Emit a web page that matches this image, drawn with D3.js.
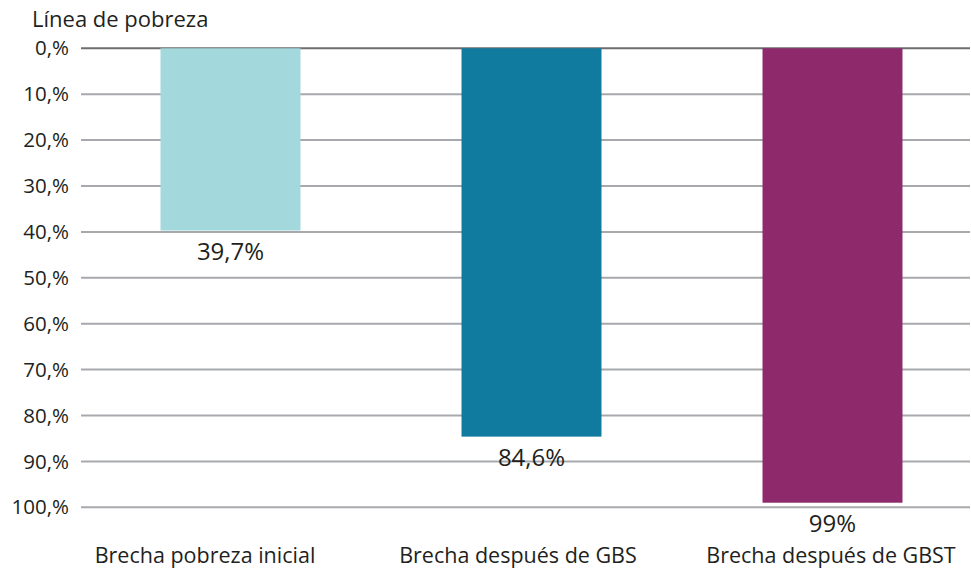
<!DOCTYPE html>
<html>
<head>
<meta charset="utf-8">
<script src="https://cdn.jsdelivr.net/npm/d3@7"></script>
<style>
  body { margin: 0; background: #fff; }
  text { font-family: "Open Sans", sans-serif; fill: #231f20; }
</style>
</head>
<body>
<div id="chart"></div>
<script>
const categories = ['Brecha pobreza inicial', 'Brecha después de GBS', 'Brecha después de GBST']
const values = [39.7, 84.6, 99]
const valueLabels = ['39,7%', '84,6%', '99%']
const barColors = ['#a3d9dc', '#107a9f', '#8e296b']
const tickValues = [0, 10, 20, 30, 40, 50, 60, 70, 80, 90, 100]
const tickLabels = ['0,%', '10,%', '20,%', '30,%', '40,%', '50,%', '60,%', '70,%', '80,%', '90,%', '100,%']

const width = 971, height = 569

var svg = d3.select('#chart')
    .append('svg')
    .attr('width', width)
    .attr('height', height)

// y goes downward: 0% at the top
const y = d3.scaleLinear().domain([0, 100]).range([48.3, 507.3])
const x = d3.scaleBand().domain(categories).range([80, 983]).paddingInner(0.535).paddingOuter(0.2675)
// category labels sit a bit left of the bar centres in the original
const xLabel = d3.scalePoint().domain(categories).range([205, 831])

// gridlines
svg.append('g')
    .selectAll('line')
    .data(tickValues)
    .enter()
    .append('line')
    .attr('x1', 81)
    .attr('x2', 970)
    .attr('y1', d => y(d))
    .attr('y2', d => y(d))
    .attr('stroke', d => d === 0 ? '#6d6e71' : '#a7a9ac')
    .attr('stroke-width', 2)

// tick labels
svg.append('g')
    .selectAll('text')
    .data(tickValues)
    .enter()
    .append('text')
    .attr('x', 69)
    .attr('y', d => y(d))
    .attr('dy', '0.35em')
    .attr('text-anchor', 'end')
    .attr('font-size', 20.5)
    .text((d, i) => tickLabels[i])

svg.append('text')
    .attr('x', 32)
    .attr('y', 27)
    .attr('font-size', 22)
    .text('Línea de pobreza')

// bars
svg.append('g')
    .selectAll('rect')
    .data(values)
    .enter()
    .append('rect')
    .attr('x', (d, i) => x(categories[i]))
    .attr('y', y(0))
    .attr('width', x.bandwidth())
    .attr('height', d => y(d) - y(0))
    .attr('fill', (d, i) => barColors[i])

// value labels
svg.append('g')
    .selectAll('text')
    .data(values)
    .enter()
    .append('text')
    .attr('x', (d, i) => x(categories[i]) + x.bandwidth() / 2)
    .attr('y', d => y(d) + 29)
    .attr('text-anchor', 'middle')
    .attr('font-size', 24)
    .text((d, i) => valueLabels[i])

// category labels
svg.append('g')
    .selectAll('text')
    .data(categories)
    .enter()
    .append('text')
    .attr('x', d => xLabel(d))
    .attr('y', 563)
    .attr('text-anchor', 'middle')
    .attr('font-size', 21.5)
    .text(d => d)
</script>
</body>
</html>
